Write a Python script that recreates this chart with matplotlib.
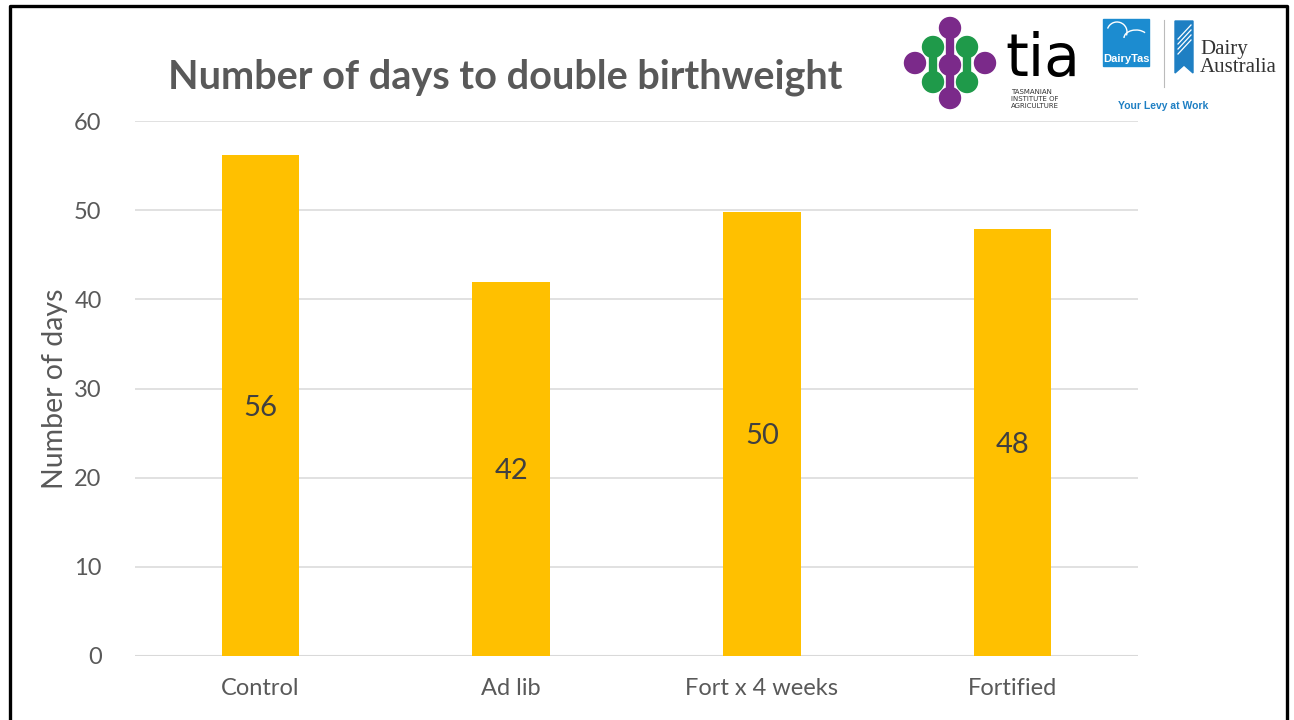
import numpy as np
import matplotlib
matplotlib.use("Agg")
import matplotlib.pyplot as plt
from matplotlib.patches import Circle, Rectangle, Polygon, Arc
from matplotlib.lines import Line2D

categories = ["Control", "Ad lib", "Fort x 4 weeks", "Fortified"]
days = [56.2, 42.0, 49.8, 47.9]
day_labels = ["56", "42", "50", "48"]
y_ticks = [0, 10, 20, 30, 40, 50, 60]

BAR_COLOR = "#FFC000"
GRID_COLOR = "#D9D9D9"
TEXT_COLOR = "#595959"
W, H = 1294, 720

plt.rcParams["font.family"] = ["Lato", "DejaVu Sans"]

fig = plt.figure(figsize=(W / 100, H / 100), dpi=100)
fig.patch.set_facecolor("white")

left, right, top, bottom = 135, 1138, 121, 656
ax = fig.add_axes([left / W, 1 - bottom / H, (right - left) / W, (bottom - top) / H])
x = np.arange(len(categories))
ax.bar(x, days, width=0.31, color=BAR_COLOR, zorder=3)
for xi, v, lab in zip(x, days, day_labels):
    ax.text(xi, v / 2, lab, ha="center", va="center_baseline", fontsize=21, color="#404040", zorder=4)

ax.set_xlim(-0.5, len(categories) - 0.5)
ax.set_ylim(0, 60)
ax.set_yticks(y_ticks)
ax.set_xticks(x)
ax.set_xticklabels(categories)
ax.tick_params(axis="both", length=0, labelsize=17, colors=TEXT_COLOR)
ax.tick_params(axis="y", pad=24)
ax.tick_params(axis="x", pad=16)
ax.grid(axis="y", color=GRID_COLOR, linewidth=1.1, zorder=0)
for s in ax.spines.values():
    s.set_visible(False)
ax.axhline(0, color=GRID_COLOR, linewidth=1.5, zorder=2)

fig.text(55 / W, 1 - 389 / H, "Number of days", rotation=90, ha="center", va="center",
         fontsize=20.5, color=TEXT_COLOR)
fig.text(168 / W, 1 - 77 / H, "Number of days to double birthweight", ha="left", va="center",
         fontsize=28.5, fontweight="bold", color=TEXT_COLOR)

# overlay in pixel coordinates for the logos and frame
ov = fig.add_axes([0, 0, 1, 1], zorder=5)
ov.set_xlim(0, W)
ov.set_ylim(H, 0)
ov.axis("off")
ov.patch.set_alpha(0)

# frame
ov.add_line(Line2D([9.5, 9.5, 1287, 1287], [725, 6, 6, 725], color="black", linewidth=2.4))

# TIA logo
purple, green = "#7B2A8A", "#1F9A4A"
ov.add_line(Line2D([950, 950], [28, 98], color=purple, linewidth=6, solid_capstyle="round"))
ov.add_line(Line2D([933, 933], [47, 82], color=green, linewidth=6))
ov.add_line(Line2D([967, 967], [47, 82], color=green, linewidth=6))
for cx, cy in [(933, 47), (967, 47), (933, 82), (967, 82)]:
    ov.add_patch(Circle((cx, cy), 10.5, color=green))
for cx, cy in [(950, 28), (915, 63), (950, 65), (985, 63), (950, 98)]:
    ov.add_patch(Circle((cx, cy), 10.5, color=purple))
ov.text(1005, 76, "tia", fontsize=42, color="black", ha="left", va="baseline",
        family=["DejaVu Sans"])
for i, line in enumerate(["TASMANIAN", "INSTITUTE OF", "AGRICULTURE"]):
    ov.text(1011, 92 + i * 7, line, fontsize=5, color="#333333", ha="left", va="center",
            family=["DejaVu Sans"])

# DairyTas box
blue = "#1C8CD0"
ov.add_patch(Rectangle((1103, 19), 46, 47, color=blue))
ov.add_patch(Arc((1117, 32), 20, 20, theta1=200, theta2=20, color="white", lw=1))
ov.add_patch(Arc((1136, 38), 24, 16, theta1=180, theta2=330, color="white", lw=1))
ov.text(1126, 59, "DairyTas", fontsize=8, fontweight="bold", color="white",
        ha="center", va="center", family=["Liberation Sans"])
ov.add_line(Line2D([1164, 1164], [20, 87], color="#BBBBBB", linewidth=0.8))

# Dairy Australia ribbon
ov.add_patch(Polygon([(1175, 21), (1193, 21), (1193, 73), (1184, 65), (1175, 73)], color="#1E7FC3"))
for k in range(4):
    ov.add_line(Line2D([1178, 1191], [54 - k * 5, 40 - k * 5], color="white", linewidth=0.9))
ov.text(1200, 54, "Dairy", fontsize=15, color="#333333", ha="left", va="baseline",
        family=["Liberation Serif"])
ov.text(1200, 72, "Australia", fontsize=15, color="#333333", ha="left", va="baseline",
        family=["Liberation Serif"])
ov.text(1163, 106, "Your Levy at Work", fontsize=7.5, fontweight="bold", color="#1E7FC3",
        ha="center", va="center", family=["Liberation Sans"])

fig.savefig("out.png", dpi=100)
